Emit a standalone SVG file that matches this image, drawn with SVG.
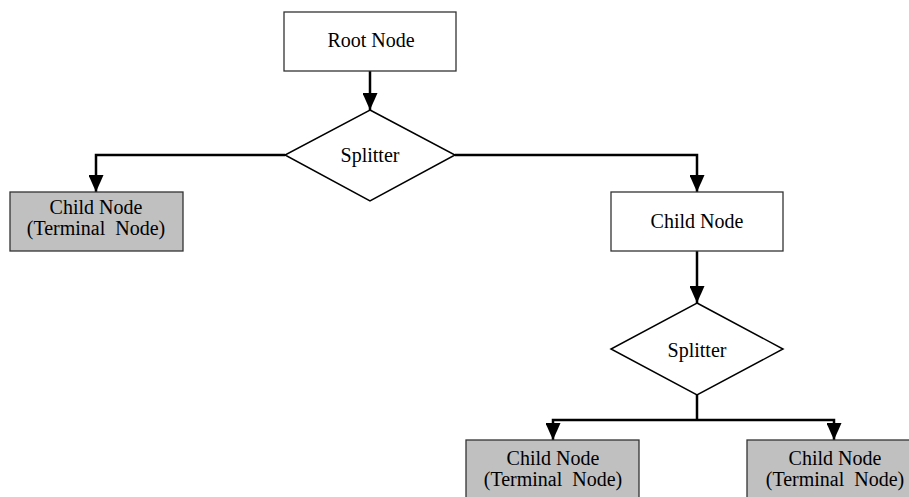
<svg xmlns="http://www.w3.org/2000/svg" width="909" height="497" viewBox="0 0 909 497">
<defs>
<marker id="arr" markerUnits="userSpaceOnUse" markerWidth="17" markerHeight="15" refX="17" refY="7.5" orient="auto">
<path d="M0,0 L17,7.5 L0,15 z" fill="#000"/>
</marker>
<style>
.box{fill:#fff;stroke:#333;stroke-width:1.3}
.term{fill:#c0c0c0;stroke:#333;stroke-width:1.3}
.dia{fill:#fff;stroke:#000;stroke-width:1.5}
.t{font-family:"Liberation Serif","Times New Roman",serif;font-size:20px;fill:#000;text-anchor:middle;white-space:pre}
.c{fill:none;stroke:#000;stroke-width:2.5}
</style>
</defs>
<rect width="909" height="497" fill="#fff"/>
<g id="connectors">
<path class="c" d="M370,71 L370,110" marker-end="url(#arr)"/>
<path class="c" d="M285,155 L96,155 L96,192" marker-end="url(#arr)"/>
<path class="c" d="M455,155 L697,155 L697,192" marker-end="url(#arr)"/>
<path class="c" d="M697,251 L697,303" marker-end="url(#arr)"/>
<path class="c" d="M697,395 L697,420"/>
<path class="c" d="M697,420 L553,420 L553,440" marker-end="url(#arr)"/>
<path class="c" d="M697,420 L834,420 L834,440" marker-end="url(#arr)"/>
</g>
<g id="root">
<rect class="box" x="284" y="12" width="172" height="59"/>
<text class="t" x="371" y="47">Root Node</text>
</g>
<g id="splitter1">
<polygon class="dia" points="370,110 455,155 370,201 285,155"/>
<text class="t" x="370" y="162">Splitter</text>
</g>
<g id="terminal1">
<rect class="term" x="10" y="192" width="173" height="59"/>
<text class="t" x="96" y="214">Child Node</text>
<text class="t" x="96" y="235" xml:space="preserve">(Terminal  Node)</text>
</g>
<g id="child">
<rect class="box" x="611" y="192" width="172" height="59"/>
<text class="t" x="697" y="228">Child Node</text>
</g>
<g id="splitter2">
<polygon class="dia" points="697,303 783,349 697,395 611,349"/>
<text class="t" x="697" y="357">Splitter</text>
</g>
<g id="terminal2">
<rect class="term" x="466" y="440" width="173" height="60"/>
<text class="t" x="553" y="465">Child Node</text>
<text class="t" x="553" y="486" xml:space="preserve">(Terminal  Node)</text>
</g>
<g id="terminal3">
<rect class="term" x="747" y="440" width="173" height="60"/>
<text class="t" x="835" y="465">Child Node</text>
<text class="t" x="835" y="486" xml:space="preserve">(Terminal  Node)</text>
</g>
</svg>
